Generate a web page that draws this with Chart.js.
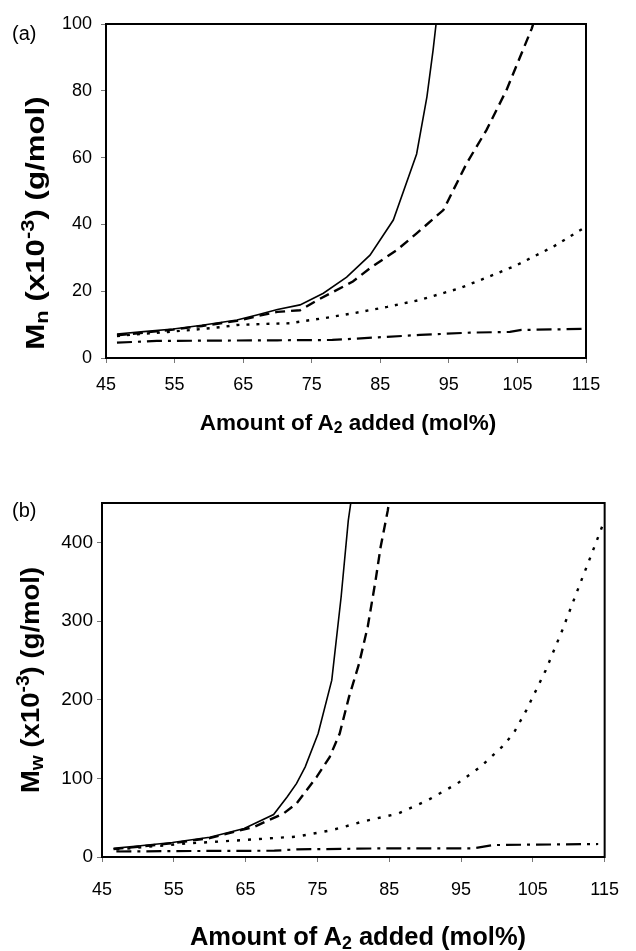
<!DOCTYPE html>
<html>
<head>
<meta charset="utf-8">
<script src="https://cdn.jsdelivr.net/npm/chart.js@4/dist/chart.umd.min.js"></script>
<style>
  body { margin: 0; background: #fff; width: 636px; height: 951px; position: relative; overflow: hidden;
         font-family: "Liberation Sans", Arial, sans-serif; color: #000; }
  canvas { position: absolute; left: 0; }
  .lbl { position: absolute; white-space: nowrap; }
  .panel { font-size: 20px; }
  .xt { font-weight: bold; transform: translateX(-50%); }
  .yt { font-weight: bold; font-size: 25px; }
  sub, sup { font-size: 70%; }
  sub { vertical-align: -0.2em; }
  sup { vertical-align: 0.6em; }
</style>
</head>
<body>
<canvas id="mnChart" width="636" height="475" style="top:0"></canvas>
<canvas id="mwChart" width="636" height="476" style="top:475px"></canvas>

<div class="lbl panel" style="left:12px; top:22px">(a)</div>
<div class="lbl panel" style="left:12px; top:499px">(b)</div>
<div class="lbl yt" style="left:35px; top:223px; transform: translate(-50%, -50%) rotate(-90deg) scaleX(1.25)">M<sub>n</sub> (x10<sup>-3</sup>) (g/mol)</div>
<div class="lbl yt" style="left:30px; top:680px; transform: translate(-50%, -50%) rotate(-90deg) scaleX(1.1)">M<sub>w</sub> (x10<sup>-3</sup>) (g/mol)</div>
<div class="lbl xt" style="left:348px; top:410px; font-size:22.5px">Amount of A<sub>2</sub> added (mol%)</div>
<div class="lbl xt" style="left:358px; top:922px; font-size:25.5px">Amount of A<sub>2</sub> added (mol%)</div>

<script>
// tick values
const xTickValues = [45, 55, 65, 75, 85, 95, 105, 115];
const mnTickValues = [0, 20, 40, 60, 80, 100];
const mwTickValues = [0, 100, 200, 300, 400];

// (a) Mn series
const mnSolidX = [46.6, 50.5, 54.8, 59, 64.1, 67, 70, 73.3, 76.7, 80.1, 83.5, 86.9, 90.3, 91.8, 92.7, 93.3];
const mnSolidY = [7.2, 7.9, 8.7, 9.8, 11.4, 12.9, 14.5, 15.9, 19.4, 24.2, 30.8, 41.3, 61.1, 78.2, 92.2, 103];
const mnDashX = [46.6, 50.5, 54.8, 59, 64.1, 67, 70, 73.3, 76, 81, 83.5, 87.4, 90.3, 94.2, 97.6, 100.5, 103.4, 105.4, 107.1, 107.6];
const mnDashY = [6.8, 7.6, 8.5, 9.6, 11.1, 12.5, 13.8, 14.3, 17.5, 22.9, 26.9, 32.3, 37.3, 44.3, 58.3, 68.3, 80.2, 90.2, 98.7, 102];
const mnDotX = [46.6, 50, 54, 58, 62, 64.1, 68, 71.8, 73.3, 77, 81.1, 86, 90.8, 96.6, 101.5, 104.9, 110.2, 114.6];
const mnDotY = [6.6, 7.2, 7.8, 8.5, 9.3, 9.9, 10.2, 10.4, 10.9, 12, 13.4, 15.3, 17.4, 20.9, 24.9, 27.8, 33.3, 38.8];
const mnDashDotX = [46.6, 52.4, 60, 70, 78, 84.7, 90.8, 98.1, 103.9, 105.6, 114.6];
const mnDashDotY = [4.6, 5.1, 5.2, 5.3, 5.4, 6.2, 6.9, 7.6, 7.8, 8.4, 8.7];

// (b) Mw series
const mwSolidX = [46.6, 50, 54.8, 60, 64.8, 68.9, 70.8, 72.1, 73.3, 75.1, 77, 78.3, 79.3, 79.8];
const mwSolidY = [11, 14, 18.5, 25, 36.3, 54, 76.5, 93.5, 114.6, 157, 224.8, 330.5, 428, 460];
const mwDashX = [46.6, 50, 54.8, 60, 66.2, 70.3, 72.1, 74.9, 76.7, 78.1, 79.4, 80.8, 82, 83.1, 83.8, 84.8, 85.1];
const mwDashY = [10, 13, 17.5, 24, 38.4, 55.4, 68, 101.8, 127, 157, 203.5, 245.8, 292.5, 351.7, 394, 440.6, 460];
const mwDotX = [47, 52, 57, 64.8, 70.3, 72.1, 77.1, 81.2, 86.3, 90.4, 94.5, 97.7, 100.7, 102.3, 104.1, 106.8, 109.1, 111.4, 113.2, 114.8];
const mwDotY = [9.6, 13.5, 17.3, 21.6, 24.9, 25.8, 34.3, 44.8, 55.4, 72.4, 93.5, 114.6, 140, 157, 186.7, 237.5, 288.3, 343.2, 385.5, 423.6];
const mwDashDotX = [47, 55, 62, 69, 72.1, 84.5, 96.8, 99.5, 114.1];
const mwDashDotY = [7, 7.5, 7.8, 8, 9.7, 11, 11, 15.2, 16.5];

const FONT = '"Liberation Sans", Arial, sans-serif';

function pts(xs, ys) {
    return xs.map((x, i) => ({ x: x, y: ys[i] }));
}

function series(xs, ys, dash, width) {
    return {
        data: pts(xs, ys),
        borderColor: '#000',
        borderWidth: width,
        borderDash: dash,
        pointRadius: 0,
        tension: 0,
        fill: false
    };
}

// full box round the plot area
const frame = {
    id: 'frame',
    afterDraw(chart) {
        const { ctx, chartArea: a } = chart;
        ctx.save();
        ctx.strokeStyle = '#000';
        ctx.lineWidth = 2;
        ctx.strokeRect(a.left, a.top, a.right - a.left, a.bottom - a.top);
        ctx.restore();
    }
};

function makeChart(id, sets, yMax, yTicks, box) {
    new Chart(document.getElementById(id), {
        type: 'line',
        data: { datasets: sets },
        plugins: [frame],
        options: {
            responsive: false,
            animation: false,
            layout: { padding: { top: box.top, right: box.right, left: 0, bottom: 0 } },
            plugins: { legend: { display: false }, tooltip: { enabled: false } },
            scales: {
                x: {
                    type: 'linear', min: 45, max: 115,
                    afterBuildTicks: s => { s.ticks = xTickValues.map(v => ({ value: v })); },
                    afterFit: s => { s.height = box.xHeight; },
                    grid: { drawOnChartArea: false, drawTicks: true, tickLength: 5, color: '#777' },
                    border: { display: false },
                    ticks: { color: '#000', padding: box.xPad, maxRotation: 0, font: { family: FONT, size: 18 } }
                },
                y: {
                    min: 0, max: yMax,
                    afterBuildTicks: s => { s.ticks = yTicks.map(v => ({ value: v })); },
                    afterFit: s => { s.width = box.left; },
                    grid: { drawOnChartArea: false, drawTicks: true, tickLength: 5, color: '#777' },
                    border: { display: false },
                    ticks: { color: '#000', padding: box.yPad, font: { family: FONT, size: box.ySize } }
                }
            }
        }
    });
}

makeChart('mnChart', [
    series(mnSolidX, mnSolidY, [], 1.6),
    series(mnDashX, mnDashY, [10, 6], 2.4),
    series(mnDotX, mnDotY, [3, 7], 2.4),
    series(mnDashDotX, mnDashDotY, [15, 6, 3, 6], 2.2)
], 100, mnTickValues, { top: 24, right: 50, left: 106, xHeight: 117, xPad: 11, yPad: 9, ySize: 18 });

makeChart('mwChart', [
    series(mwSolidX, mwSolidY, [], 1.6),
    series(mwDashX, mwDashY, [10, 6], 2.4),
    series(mwDotX, mwDotY, [3, 8], 2.4),
    series(mwDashDotX, mwDashDotY, [15, 6, 3, 6], 2.2)
], 450, mwTickValues, { top: 28, right: 23, left: 102, xHeight: 94, xPad: 17, yPad: 4, ySize: 19 });
</script>
</body>
</html>
